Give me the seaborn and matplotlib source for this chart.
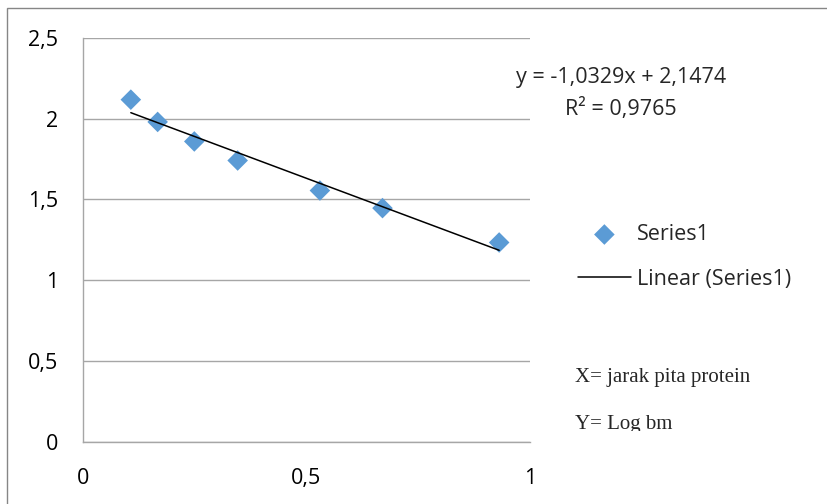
import matplotlib
matplotlib.use('Agg')
import matplotlib.pyplot as plt
import seaborn as sns
import pandas as pd
from matplotlib.patches import Rectangle
from matplotlib.transforms import Bbox

# data (x = jarak pita protein, y = log bm)
jarak = [0.107, 0.167, 0.249, 0.346, 0.530, 0.670, 0.931]
log_bm = [2.118, 1.980, 1.859, 1.741, 1.555, 1.446, 1.233]
x_ticks = [0, 0.5, 1]
x_tick_labels = ['0', '0,5', '1']
y_ticks = [0, 0.5, 1, 1.5, 2, 2.5]
y_tick_labels = ['0', '0,5', '1', '1,5', '2', '2,5']
persamaan = 'y = -1,0329x + 2,1474'
r_kuadrat = 'R² = 0,9765'
ket_x = 'X= jarak pita protein'
ket_y = 'Y= Log bm'

df = pd.DataFrame({'x': jarak, 'y': log_bm})

sns.set_style('white')
plt.rcParams['font.family'] = ['Open Sans', 'DejaVu Sans']
fs = 15.5

fig = plt.figure(figsize=(8.28, 5.04), dpi=100)
ax = fig.add_axes([83 / 828, 1 - 441.5 / 504, 447 / 828, (441.5 - 38) / 504])

grijs = '#a6a6a6'
sns.scatterplot(data=df, x='x', y='y', ax=ax, marker='D', s=110, color='#5b9bd5',
                edgecolor='none', label='Series1', zorder=3)
sns.regplot(data=df, x='x', y='y', ax=ax, scatter=False, ci=None, truncate=True,
            line_kws={'color': 'black', 'lw': 1.1, 'zorder': 4}, label='Linear (Series1)')

ax.set_xlim(0, 1)
ax.set_ylim(0, 2.5)
ax.set_xticks(x_ticks)
ax.set_xticklabels(x_tick_labels)
ax.set_yticks(y_ticks)
ax.set_yticklabels(y_tick_labels)
ax.set_xlabel('')
ax.set_ylabel('')
ax.yaxis.grid(True, color=grijs, lw=1)
ax.xaxis.grid(False)
ax.set_axisbelow(True)
for s in ['top', 'right']:
    ax.spines[s].set_visible(False)
for s in ['left', 'bottom']:
    ax.spines[s].set_color(grijs)
    ax.spines[s].set_linewidth(1)
ax.tick_params(axis='both', which='both', direction='out', length=6, width=1,
               color=grijs, labelsize=fs, labelcolor='black')
ax.tick_params(axis='y', pad=12)
ax.tick_params(axis='x', pad=13)

ax.get_legend().remove()
handles, labels = ax.get_legend_handles_labels()
fig.legend(handles, labels, loc='center left', bbox_to_anchor=(578 / 828, 1 - 257 / 504),
           frameon=False, fontsize=fs, handlelength=2.45, handletextpad=0.28,
           labelspacing=1.1, borderpad=0, borderaxespad=0)

fig.text(621 / 828, 1 - 83 / 504, persamaan, ha='center', va='baseline', fontsize=fs)
fig.text(621 / 828, 1 - 115 / 504, r_kuadrat, ha='center', va='baseline', fontsize=fs)

fig.text(575 / 828, 1 - 382 / 504, ket_x, ha='left', va='baseline', fontsize=15,
         family='Liberation Serif')
t = fig.text(575 / 828, 1 - 429 / 504, ket_y, ha='left', va='baseline', fontsize=15,
             family='Liberation Serif')
t.set_clip_box(Bbox.from_extents(0, 73, 828, 504))
t.set_clip_on(True)

# outer chart border
fig.patches.append(Rectangle((7 / 828, -0.1), 1.2, 1.1 - 8.5 / 504, transform=fig.transFigure,
                             fill=False, edgecolor='#868686', lw=1))

fig.savefig('out.png', dpi=100)
